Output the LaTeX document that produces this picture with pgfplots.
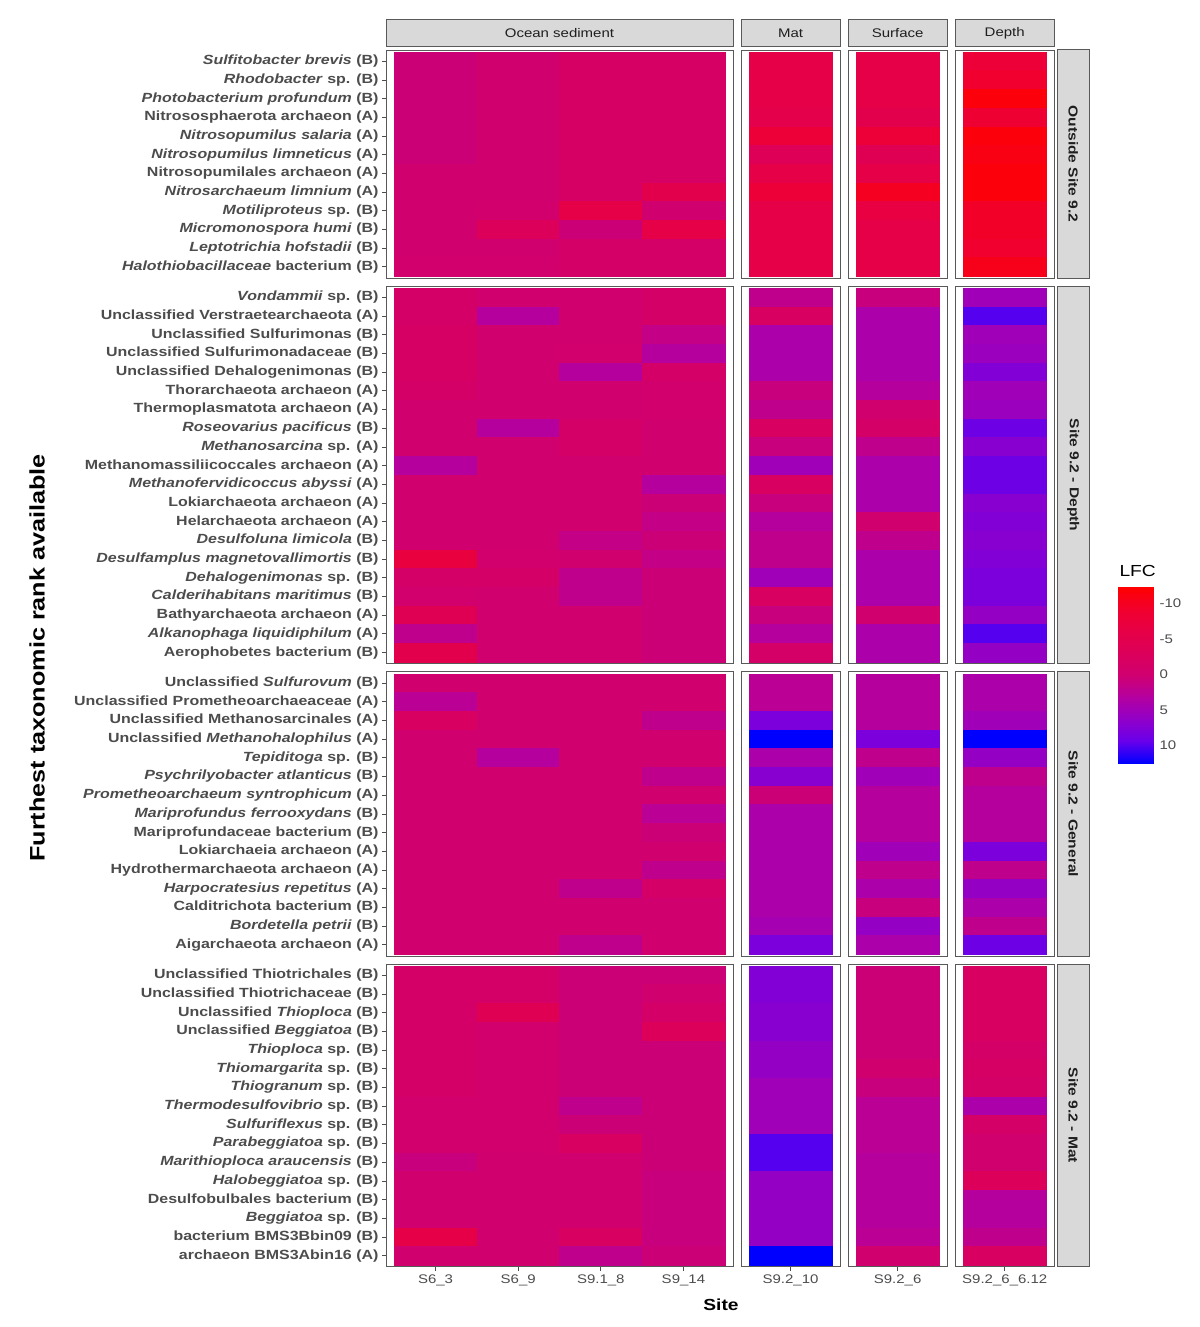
\documentclass[border=0pt]{standalone}
\usepackage{pgfplots}
\usepackage{pgfplotstable}
\pgfplotsset{compat=1.18}
\usepackage{fontspec}
\setmainfont{Liberation Sans}[FakeStretch=1.2]
\definecolor{stripfill}{gray}{0.85}
\definecolor{framecol}{gray}{0.35}
\definecolor{labcol}{gray}{0.30}
\definecolor{striptext}{gray}{0.12}
\newcommand{\labfont}{\fontsize{13.3}{14}\selectfont\bfseries}
\newcommand{\tickfont}{\fontsize{12.5}{13}\selectfont}
\newcommand{\stripfont}{\fontsize{12.5}{13}\selectfont}

\pgfdeclareplotmark{cell}{%
  \pgfpathrectangle{\pgfpoint{-41.3pt}{-9.35pt}}{\pgfpoint{82.6pt}{18.7pt}}%
  \pgfusepathqfillstroke}

\pgfplotsset{
  colormap={lfc}{rgb255(0cm)=(255,0,0); rgb255(1cm)=(242,0,45); rgb255(2cm)=(230,0,70); rgb255(3cm)=(220,0,90); rgb255(4cm)=(208,0,112); rgb255(5cm)=(180,0,160); rgb255(6cm)=(145,0,200); rgb255(7cm)=(105,0,235); rgb255(8cm)=(0,0,255)},
  panel/.style={scale only axis, anchor=north west, y dir=reverse,
    axis line style={framecol, line width=1pt},
    xtick=\empty, ytick=\empty,
    colormap name=lfc, point meta min=-12.3, point meta max=12.5,
    axis on top,
    tick style={labcol, line width=0.8pt}, major tick length=4pt, tick align=outside,
    xtick pos=bottom, ytick pos=left,
    yticklabel style={text=labcol, font=\labfont},
    xticklabel style={text=labcol, font=\tickfont},
  },
  ocean/.style={panel, width=347pt, xmin=-0.6, xmax=3.6},
  single/.style={panel, width=99.1pt, xmin=-0.6, xmax=0.6},
  cellplot/.style={scatter, only marks, mark=cell, mark options={line width=0.3pt},
    scatter/use mapped color={draw=mapped color, fill=mapped color}},
}

% LFC values, rows from top to bottom; a..d = S6_3, S6_9, S9.1_8, S9_14; m = S9.2_10 (Mat); s = S9.2_6 (Surface); p = S9.2_6_6.12 (Depth)
\pgfplotstableread{
y a b c d m s p
0 0.5 0 -1.5 -1.5 -6 -6 -8
1 0.5 0 -1.5 -1.5 -6 -6 -9
2 0.5 0 -1.5 -1.5 -6 -6 -11.5
3 0.5 0 -1.5 -1.5 -5.5 -5 -8.5
4 0.5 0 -1.5 -1.5 -8 -8 -11.5
5 0.5 0 -1.5 -1.5 -3.5 -4 -11
6 0 0 -1.5 -1.5 -6 -6 -11.5
7 0 0 -1.5 -5 -8 -10 -11.5
8 0 -0.5 -6 0 -6 -6.5 -9.5
9 0 -3 0.5 -6 -6 -6 -9.5
10 0 0 -1 -1 -6 -6 -9
11 -0.5 -0.5 -1 -1 -6 -6 -10.5
}\outside

\pgfplotstableread{
y a b c d m s p
0 -1 0 0 -1 2 1 5
1 -1 3 0 -1 -2 4 10
2 -1.5 0 0 1.5 4 4 5
3 -1.5 0 -0.5 3 4 4 5.5
4 -1.5 0 3 -1 4 4 7.5
5 -1 0 0 -0.5 1 3 5
6 0 0 0 -0.5 2 0 5.5
7 0 3 -1 0 -2 -1 9
8 0 0 -1 0 1 2 7
9 3 0 0 0 5 4 9
10 0 0 0 3 -2 4 9
11 0 0 0 0.5 1 4 7
12 0 0 0 1.5 3 0 7.5
13 0 0 1.5 0.5 2 2 7
14 -7 -0.5 0 1.5 2 4 7.5
15 -1 -1 2 0.5 5 4 8
16 -0.5 0 2 0.5 -2 4 8
17 -4 0 0 0.5 1 0 6
18 2 0 0 0.5 3 4 10
19 -5 0 0 0.5 -1 4 6
}\depthtab

\pgfplotstableread{
y a b c d m s p
0 0 0 0 0 2.5 3 4
1 2.5 0 0 0 2.5 3 4
2 -2 0 0 2 8 3 5
3 0 0 0 0 12.5 8 12.5
4 0 3 0 0 4 2 6
5 0 0 0 2 7 5 2
6 0 0 0 0 0.5 3 3
7 0 0 0 2.5 4 3 3
8 0 0 0 0.5 4 3 3
9 0 0 0 0 4 5 8
10 0 0 0 2 4 2 2
11 0 0 2 -1 4 4 6
12 0 0 0 0 4 1 4
13 0 0 0 0 4.5 6 2
14 0 0 2 0 8 4 9
}\generaltab

\pgfplotstableread{
y a b c d m s p
0 -1 -1 0.5 0.5 7.5 0.5 -2
1 -1 -1 0.5 0 7.5 0.5 -2
2 -1 -4 0.5 -1 7 0.5 -2
3 -1 -0.5 0.5 -3 7 0.5 -2
4 -1 -0.5 0.5 0.5 6 0.5 -1
5 -1 -0.5 0.5 0.5 6 0 -1.5
6 -1 -0.5 0.5 0.5 5 1 -1
7 -0.5 -0.5 2 0.5 5 2.5 4
8 -0.5 -0.5 0.5 0.5 5 2.5 -1
9 -0.5 -0.5 -2 0.5 10 2.5 0
10 1 0 0 0.5 10 3 0
11 0 0 0 1 6 3 -3
12 0 0 0 1 6 3 3
13 0 0 0 1 6 3 3
14 -6 0 -2 1 6 2.5 2
15 0 0 2 0.5 12.5 0 -2
}\mattab

\begin{document}
\begin{tikzpicture}
\path (0pt,0pt) rectangle (1199pt,-1327pt);

% ---------------- Outside Site 9.2 ----------------
\begin{axis}[ocean, at={(386pt,-50pt)}, height=228.1pt, ymin=-0.6, ymax=11.6,
  ytick={0,...,11},
  yticklabels={{\textit{Sulfitobacter brevis} (B)},{\textit{Rhodobacter} sp. (B)},{\textit{Photobacterium profundum} (B)},{Nitrososphaerota archaeon (A)},{\textit{Nitrosopumilus salaria} (A)},{\textit{Nitrosopumilus limneticus} (A)},{Nitrosopumilales archaeon (A)},{\textit{Nitrosarchaeum limnium} (A)},{\textit{Motiliproteus} sp. (B)},{\textit{Micromonospora humi} (B)},{\textit{Leptotrichia hofstadii} (B)},{\textit{Halothiobacillaceae} bacterium (B)}}]
\addplot[cellplot, point meta=\thisrow{a}] table[x expr=0, y=y] {\outside};
\addplot[cellplot, point meta=\thisrow{b}] table[x expr=1, y=y] {\outside};
\addplot[cellplot, point meta=\thisrow{c}] table[x expr=2, y=y] {\outside};
\addplot[cellplot, point meta=\thisrow{d}] table[x expr=3, y=y] {\outside};
\end{axis}
\begin{axis}[single, at={(741pt,-50pt)}, height=228.1pt, ymin=-0.6, ymax=11.6]
\addplot[cellplot, point meta=\thisrow{m}] table[x expr=0, y=y] {\outside};
\end{axis}
\begin{axis}[single, at={(848.1pt,-50pt)}, height=228.1pt, ymin=-0.6, ymax=11.6]
\addplot[cellplot, point meta=\thisrow{s}] table[x expr=0, y=y] {\outside};
\end{axis}
\begin{axis}[single, at={(955.2pt,-50pt)}, height=228.1pt, ymin=-0.6, ymax=11.6]
\addplot[cellplot, point meta=\thisrow{p}] table[x expr=0, y=y] {\outside};
\end{axis}

% ---------------- Site 9.2 - Depth ----------------
\begin{axis}[ocean, at={(386pt,-286.1pt)}, height=377.7pt, ymin=-0.6, ymax=19.6,
  ytick={0,...,19},
  yticklabels={{\textit{Vondammii} sp. (B)},{Unclassified Verstraetearchaeota (A)},{Unclassified Sulfurimonas (B)},{Unclassified Sulfurimonadaceae (B)},{Unclassified Dehalogenimonas (B)},{Thorarchaeota archaeon (A)},{Thermoplasmatota archaeon (A)},{\textit{Roseovarius pacificus} (B)},{\textit{Methanosarcina} sp. (A)},{Methanomassiliicoccales archaeon (A)},{\textit{Methanofervidicoccus abyssi} (A)},{Lokiarchaeota archaeon (A)},{Helarchaeota archaeon (A)},{\textit{Desulfoluna limicola} (B)},{\textit{Desulfamplus magnetovallimortis} (B)},{\textit{Dehalogenimonas} sp. (B)},{\textit{Calderihabitans maritimus} (B)},{Bathyarchaeota archaeon (A)},{\textit{Alkanophaga liquidiphilum} (A)},{Aerophobetes bacterium (B)}}]
\addplot[cellplot, point meta=\thisrow{a}] table[x expr=0, y=y] {\depthtab};
\addplot[cellplot, point meta=\thisrow{b}] table[x expr=1, y=y] {\depthtab};
\addplot[cellplot, point meta=\thisrow{c}] table[x expr=2, y=y] {\depthtab};
\addplot[cellplot, point meta=\thisrow{d}] table[x expr=3, y=y] {\depthtab};
\end{axis}
\begin{axis}[single, at={(741pt,-286.1pt)}, height=377.7pt, ymin=-0.6, ymax=19.6]
\addplot[cellplot, point meta=\thisrow{m}] table[x expr=0, y=y] {\depthtab};
\end{axis}
\begin{axis}[single, at={(848.1pt,-286.1pt)}, height=377.7pt, ymin=-0.6, ymax=19.6]
\addplot[cellplot, point meta=\thisrow{s}] table[x expr=0, y=y] {\depthtab};
\end{axis}
\begin{axis}[single, at={(955.2pt,-286.1pt)}, height=377.7pt, ymin=-0.6, ymax=19.6]
\addplot[cellplot, point meta=\thisrow{p}] table[x expr=0, y=y] {\depthtab};
\end{axis}

% ---------------- Site 9.2 - General ----------------
\begin{axis}[ocean, at={(386pt,-671.8pt)}, height=284.2pt, ymin=-0.6, ymax=14.6,
  ytick={0,...,14},
  yticklabels={{Unclassified \textit{Sulfurovum} (B)},{Unclassified Prometheoarchaeaceae (A)},{Unclassified Methanosarcinales (A)},{Unclassified \textit{Methanohalophilus} (A)},{\textit{Tepiditoga} sp. (B)},{\textit{Psychrilyobacter atlanticus} (B)},{\textit{Prometheoarchaeum syntrophicum} (A)},{\textit{Mariprofundus ferrooxydans} (B)},{Mariprofundaceae bacterium (B)},{Lokiarchaeia archaeon (A)},{Hydrothermarchaeota archaeon (A)},{\textit{Harpocratesius repetitus} (A)},{Calditrichota bacterium (B)},{\textit{Bordetella petrii} (B)},{Aigarchaeota archaeon (A)}}]
\addplot[cellplot, point meta=\thisrow{a}] table[x expr=0, y=y] {\generaltab};
\addplot[cellplot, point meta=\thisrow{b}] table[x expr=1, y=y] {\generaltab};
\addplot[cellplot, point meta=\thisrow{c}] table[x expr=2, y=y] {\generaltab};
\addplot[cellplot, point meta=\thisrow{d}] table[x expr=3, y=y] {\generaltab};
\end{axis}
\begin{axis}[single, at={(741pt,-671.8pt)}, height=284.2pt, ymin=-0.6, ymax=14.6]
\addplot[cellplot, point meta=\thisrow{m}] table[x expr=0, y=y] {\generaltab};
\end{axis}
\begin{axis}[single, at={(848.1pt,-671.8pt)}, height=284.2pt, ymin=-0.6, ymax=14.6]
\addplot[cellplot, point meta=\thisrow{s}] table[x expr=0, y=y] {\generaltab};
\end{axis}
\begin{axis}[single, at={(955.2pt,-671.8pt)}, height=284.2pt, ymin=-0.6, ymax=14.6]
\addplot[cellplot, point meta=\thisrow{p}] table[x expr=0, y=y] {\generaltab};
\end{axis}

% ---------------- Site 9.2 - Mat ----------------
\begin{axis}[ocean, at={(386pt,-964pt)}, height=302.9pt, ymin=-0.6, ymax=15.6,
  ytick={0,...,15},
  yticklabels={{Unclassified Thiotrichales (B)},{Unclassified Thiotrichaceae (B)},{Unclassified \textit{Thioploca} (B)},{Unclassified \textit{Beggiatoa} (B)},{\textit{Thioploca} sp. (B)},{\textit{Thiomargarita} sp. (B)},{\textit{Thiogranum} sp. (B)},{\textit{Thermodesulfovibrio} sp. (B)},{\textit{Sulfuriflexus} sp. (B)},{\textit{Parabeggiatoa} sp. (B)},{\textit{Marithioploca araucensis} (B)},{\textit{Halobeggiatoa} sp. (B)},{Desulfobulbales bacterium (B)},{\textit{Beggiatoa} sp. (B)},{bacterium BMS3Bbin09 (B)},{archaeon BMS3Abin16 (A)}},
  xtick={0,1,2,3}, xticklabels={S6\_3,S6\_9,S9.1\_8,S9\_14}]
\addplot[cellplot, point meta=\thisrow{a}] table[x expr=0, y=y] {\mattab};
\addplot[cellplot, point meta=\thisrow{b}] table[x expr=1, y=y] {\mattab};
\addplot[cellplot, point meta=\thisrow{c}] table[x expr=2, y=y] {\mattab};
\addplot[cellplot, point meta=\thisrow{d}] table[x expr=3, y=y] {\mattab};
\end{axis}
\begin{axis}[single, at={(741pt,-964pt)}, height=302.9pt, ymin=-0.6, ymax=15.6,
  xtick={0}, xticklabels={S9.2\_10}]
\addplot[cellplot, point meta=\thisrow{m}] table[x expr=0, y=y] {\mattab};
\end{axis}
\begin{axis}[single, at={(848.1pt,-964pt)}, height=302.9pt, ymin=-0.6, ymax=15.6,
  xtick={0}, xticklabels={S9.2\_6}]
\addplot[cellplot, point meta=\thisrow{s}] table[x expr=0, y=y] {\mattab};
\end{axis}
\begin{axis}[single, at={(955.2pt,-964pt)}, height=302.9pt, ymin=-0.6, ymax=15.6,
  xtick={0}, xticklabels={S9.2\_6\_6.12}]
\addplot[cellplot, point meta=\thisrow{p}] table[x expr=0, y=y] {\mattab};
\end{axis}

% ---------------- legend (colour bar) ----------------
\begin{axis}[at={(1118pt,-587pt)}, anchor=north west, scale only axis,
  width=35pt, height=176pt, xmin=0, xmax=1, ymin=-12.3, ymax=12.5, y dir=reverse,
  xtick=\empty, ytick={-10,-5,0,5,10}, yticklabel pos=right,
  axis line style={draw=none}, major tick length=0pt,
  colormap name=lfc, point meta min=-12.3, point meta max=12.5,
  yticklabel style={font=\tickfont, text=labcol, xshift=3pt},
  /pgf/number format/assume math mode=true]
\addplot[surf, shader=interp, mesh/cols=2, point meta=y] table {
x y
0 -12.3
1 -12.3
0 -9.2
1 -9.2
0 -6.1
1 -6.1
0 -3.0
1 -3.0
0 0.1
1 0.1
0 3.2
1 3.2
0 6.3
1 6.3
0 9.4
1 9.4
0 12.5
1 12.5
};
\end{axis}
\node[anchor=base west, font=\fontsize{16}{16}\selectfont] at (1116pt,-576pt) {LFC};

% ---------------- facet strips ----------------
\begin{scope}[every node/.style={font=\stripfont, text=striptext}]
\draw[fill=stripfill, draw=framecol, line width=1pt] (386pt,-20pt) rectangle (733pt,-46.5pt);
\node at (559.5pt,-33.3pt) {Ocean sediment};
\draw[fill=stripfill, draw=framecol, line width=1pt] (741pt,-20pt) rectangle (840.1pt,-46.5pt);
\node at (790.5pt,-33.3pt) {Mat};
\draw[fill=stripfill, draw=framecol, line width=1pt] (848.1pt,-20pt) rectangle (947.2pt,-46.5pt);
\node at (897.6pt,-33.3pt) {Surface};
\draw[fill=stripfill, draw=framecol, line width=1pt] (955.2pt,-20pt) rectangle (1054.3pt,-46.5pt);
\node at (1004.7pt,-33.3pt) {Depth};
\end{scope}
\begin{scope}[every node/.style={font=\fontsize{13}{13}\selectfont\bfseries, text=striptext, rotate=-90}]
\draw[fill=stripfill, draw=framecol, line width=1pt] (1057.5pt,-50pt) rectangle (1089pt,-278.1pt);
\node at (1073.2pt,-164pt) {Outside Site 9.2};
\draw[fill=stripfill, draw=framecol, line width=1pt] (1057.5pt,-286.1pt) rectangle (1089pt,-663.8pt);
\node at (1073.2pt,-475pt) {Site 9.2 - Depth};
\draw[fill=stripfill, draw=framecol, line width=1pt] (1057.5pt,-671.8pt) rectangle (1089pt,-956pt);
\node at (1073.2pt,-813.9pt) {Site 9.2 - General};
\draw[fill=stripfill, draw=framecol, line width=1pt] (1057.5pt,-964pt) rectangle (1089pt,-1266.9pt);
\node at (1073.2pt,-1115.5pt) {Site 9.2 - Mat};
\end{scope}

% ---------------- axis titles ----------------
\node[rotate=90, font=\bfseries\fontsize{21}{21}\selectfont] at (37pt,-658pt) {Furthest taxonomic rank available};
\node[font=\bfseries\fontsize{16}{16}\selectfont] at (721pt,-1305pt) {Site};
\end{tikzpicture}
\end{document}
